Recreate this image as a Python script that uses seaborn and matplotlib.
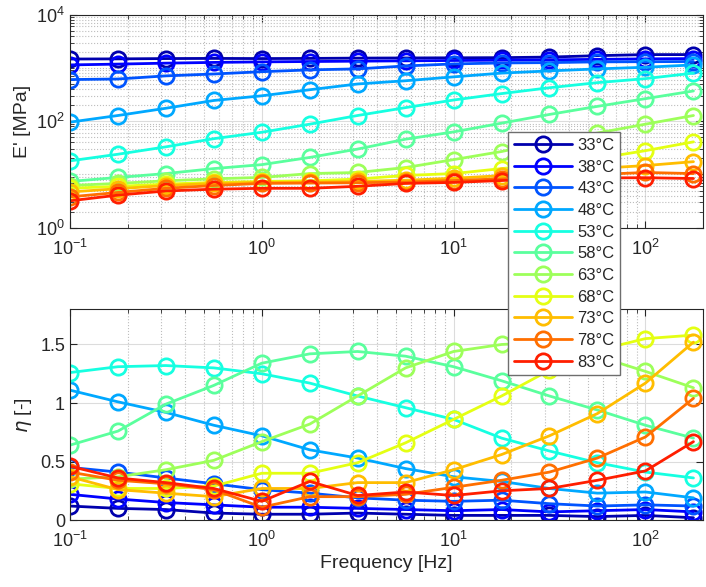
import numpy as np
import pandas as pd
import matplotlib
matplotlib.use('Agg')
import matplotlib.pyplot as plt
import matplotlib.ticker as mticker
import seaborn as sns

# frequencies [Hz] and test temperatures
freq = [0.1, 0.178, 0.316, 0.562, 1, 1.78, 3.16, 5.62, 10, 17.8, 31.6, 56.2, 100, 178]
temps = [33, 38, 43, 48, 53, 58, 63, 68, 73, 78, 83]

# storage modulus E' [MPa] per temperature
E_33 = [1470, 1480, 1500, 1510, 1500, 1510, 1530, 1540, 1550, 1560, 1600, 1700, 1780, 1780]
E_38 = [1140, 1180, 1230, 1270, 1300, 1320, 1340, 1360, 1380, 1400, 1420, 1450, 1480, 1500]
E_43 = [605, 620, 710, 770, 850, 920, 960, 1090, 1190, 1240, 1260, 1300, 1310, 1320]
E_48 = [96, 128, 175, 245, 300, 390, 500, 575, 680, 800, 880, 960, 1030, 1140]
E_53 = [18, 24, 33, 47, 62, 88, 128, 180, 250, 330, 425, 530, 630, 800]
E_58 = [7.4, 8.8, 10.4, 12.9, 15.3, 20.9, 30, 46, 63, 92, 134, 190, 265, 370]
E_63 = [6.2, 6.8, 7.6, 8.3, 8.8, 10.4, 10.9, 13.5, 19, 27, 42, 60, 88, 128]
E_68 = [5.5, 6.0, 6.6, 7.1, 7.4, 7.6, 8.2, 9.6, 10.4, 12.9, 16, 20, 28, 41]
E_73 = [4.7, 5.4, 6.2, 6.8, 7.1, 7.2, 7.4, 7.8, 8.5, 9.5, 11, 13, 14.7, 17.4]
E_78 = [3.8, 4.6, 5.5, 6.2, 6.8, 6.9, 7.0, 7.2, 7.7, 8.3, 9.2, 10, 10.9, 10.4]
E_83 = [3.2, 4.1, 4.9, 5.3, 5.5, 5.5, 6.0, 6.8, 7.1, 7.7, 8.4, 8.6, 8.7, 8.4]

# eta [-] per temperature
eta_33 = [0.12, 0.10, 0.09, 0.06, 0.05, 0.05, 0.06, 0.05, 0.04, 0.04, 0.04, 0.03, 0.04, 0.02]
eta_38 = [0.22, 0.18, 0.15, 0.13, 0.11, 0.11, 0.10, 0.09, 0.08, 0.09, 0.07, 0.08, 0.09, 0.07]
eta_43 = [0.45, 0.41, 0.36, 0.31, 0.26, 0.23, 0.19, 0.17, 0.16, 0.17, 0.14, 0.12, 0.13, 0.12]
eta_48 = [1.11, 1.01, 0.92, 0.81, 0.72, 0.60, 0.53, 0.44, 0.37, 0.33, 0.27, 0.23, 0.24, 0.19]
eta_53 = [1.26, 1.31, 1.32, 1.30, 1.25, 1.17, 1.06, 0.96, 0.86, 0.70, 0.59, 0.49, 0.41, 0.36]
eta_58 = [0.64, 0.76, 0.99, 1.15, 1.34, 1.42, 1.44, 1.40, 1.31, 1.19, 1.06, 0.94, 0.81, 0.70]
eta_63 = [0.35, 0.37, 0.43, 0.51, 0.67, 0.82, 1.06, 1.30, 1.44, 1.50, 1.52, 1.40, 1.27, 1.13]
eta_68 = [0.31, 0.27, 0.27, 0.29, 0.40, 0.40, 0.49, 0.66, 0.86, 1.06, 1.28, 1.45, 1.55, 1.58]
eta_73 = [0.37, 0.26, 0.23, 0.20, 0.27, 0.27, 0.32, 0.32, 0.43, 0.56, 0.72, 0.91, 1.17, 1.52]
eta_78 = [0.41, 0.34, 0.31, 0.26, 0.11, 0.20, 0.20, 0.22, 0.28, 0.34, 0.41, 0.53, 0.71, 1.04]
eta_83 = [0.46, 0.36, 0.32, 0.27, 0.16, 0.33, 0.21, 0.24, 0.21, 0.25, 0.27, 0.34, 0.42, 0.67]

E_all = [E_33, E_38, E_43, E_48, E_53, E_58, E_63, E_68, E_73, E_78, E_83]
eta_all = [eta_33, eta_38, eta_43, eta_48, eta_53, eta_58, eta_63, eta_68, eta_73, eta_78, eta_83]

rows = []
for t, e_vals, n_vals in zip(temps, E_all, eta_all):
    for f, e, n in zip(freq, e_vals, n_vals):
        rows.append({'Frequency': f, 'E': e, 'eta': n, 'Temp': t})
df = pd.DataFrame(rows)

sns.set_style('ticks')
plt.rcParams['font.family'] = ['Liberation Sans', 'DejaVu Sans']
plt.rcParams['mathtext.fontset'] = 'dejavusans'

colors = plt.cm.jet(np.linspace(0.0417, 0.875, len(temps)))

fig = plt.figure(figsize=(7.06, 5.87), dpi=100)
ax1 = fig.add_axes([0.099, 0.612, 0.897, 0.363])
ax2 = fig.add_axes([0.099, 0.114, 0.897, 0.359])

for t, c in zip(temps, colors):
    sub = df[df['Temp'] == t]
    style = dict(color=c, marker='o', markersize=11, markerfacecolor='none',
                 markeredgecolor=c, markeredgewidth=2, linewidth=2)
    sns.lineplot(data=sub, x='Frequency', y='E', ax=ax1, label=f'{t}°C', **style)
    sns.lineplot(data=sub, x='Frequency', y='eta', ax=ax2, legend=False, **style)

ink = '#262626'
for ax in (ax1, ax2):
    ax.set_xscale('log')
    ax.set_xlim(0.1, 200)
    ax.tick_params(which='both', direction='in', top=True, right=True,
                   colors=ink, labelsize=13)
    ax.tick_params(axis='x', which='major', pad=8)
    ax.tick_params(which='major', length=5)
    ax.tick_params(which='minor', length=3)
    for s in ax.spines.values():
        s.set_color(ink)
        s.set_linewidth(0.8)
    ax.grid(which='major', color='#dcdcdc', linestyle='-', linewidth=0.8)
    ax.set_axisbelow(True)

ax1.set_yscale('log')
ax1.set_ylim(1, 1e4)
ax1.set_yticks([1, 1e2, 1e4])
minor = [m * 10 ** k for k in range(0, 4) for m in range(1, 10) if not (m == 1 and k % 2 == 0)]
ax1.set_yticks(minor, minor=True)
ax1.yaxis.set_minor_formatter(mticker.NullFormatter())
ax1.grid(which='minor', color='#bdbdbd', linestyle=':', linewidth=0.8)
ax1.set_xlabel('')
ax1.set_ylabel("E' [MPa]", fontsize=14, color=ink)

ax2.set_ylim(0, 1.8)
ax2.set_yticks([0, 0.5, 1, 1.5])
ax2.set_yticklabels(['0', '0.5', '1', '1.5'])
ax2.xaxis.grid(which='minor', color='#bdbdbd', linestyle=':', linewidth=0.8)
ax2.set_xlabel('Frequency [Hz]', fontsize=14, color=ink, labelpad=3)
ax2.set_ylabel(r'$\eta$ [-]', fontsize=14, color=ink)

handles, labels = ax1.get_legend_handles_labels()
ax1.get_legend().remove()
leg = fig.legend(handles, labels, loc='upper left', bbox_to_anchor=(0.7195, 0.775),
                 borderaxespad=0, fontsize=12, handlelength=3.5, labelspacing=0.4,
                 borderpad=0.35, handletextpad=0.3, fancybox=False, framealpha=1,
                 edgecolor='#6e6e6e')
leg.get_frame().set_linewidth(1.0)

fig.savefig('out.png', dpi=100)
